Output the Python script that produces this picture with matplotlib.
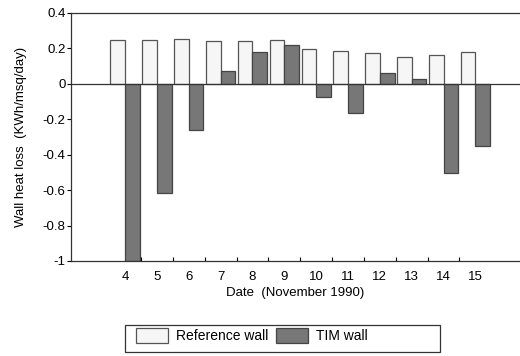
import numpy as np
import matplotlib.pyplot as plt
from matplotlib.patches import Rectangle

plt.rcParams['font.family'] = ['Liberation Sans', 'DejaVu Sans']

# data
dates = [4, 5, 6, 7, 8, 9, 10, 11, 12, 13, 14, 15]
reference_wall = [0.245, 0.245, 0.253, 0.243, 0.243, 0.249, 0.196, 0.188, 0.173, 0.151, 0.162, 0.180]
tim_wall = [-1.0, -0.617, -0.26, 0.075, 0.177, 0.22, -0.072, -0.162, 0.064, 0.028, -0.505, -0.349]

x = np.array(dates, dtype=float)
w = 0.46
fs = 9.5

fig = plt.figure(figsize=(5.2, 3.56), dpi=100)
ax = fig.add_axes([0.1365, 0.267, 0.8635, 0.6965])

ax.bar(x - w / 2, reference_wall, width=w, color='#f6f6f6', edgecolor='#555555',
       linewidth=0.9, label='Reference wall')
ax.bar(x + w / 2, tim_wall, width=w, color='#777777', edgecolor='#444444',
       linewidth=0.9, label='TIM wall')

ax.axhline(0, color='#333333', linewidth=0.9)
ax.set_xlim(2.3, 16.4)
ax.set_ylim(-1, 0.4)

ax.set_yticks([0.4, 0.2, 0, -0.2, -0.4, -0.6, -0.8, -1])
ax.set_yticklabels(['0.4', '0.2', '0', '-0.2', '-0.4', '-0.6', '-0.8', '-1'])
ax.tick_params(axis='y', direction='out', length=3, width=0.8, labelsize=fs, pad=1)

ax.set_xticks(x)
ax.set_xticklabels([str(d) for d in dates])
ax.tick_params(axis='x', length=0, labelsize=fs, pad=7)
ax.set_xticks(np.arange(4.5, 15.0, 1.0), minor=True)
ax.tick_params(axis='x', which='minor', direction='in', length=3, width=0.8)

for s in ['left', 'bottom', 'top']:
    ax.spines[s].set_color('#333333')
    ax.spines[s].set_linewidth(0.9)
ax.spines['right'].set_visible(False)

ax.set_xlabel('Date  (November 1990)', fontsize=fs, labelpad=3)
ax.set_ylabel('Wall heat loss  (KWh/msq/day)', fontsize=fs, labelpad=11)

# legend, left aligned inside a wider box
fig.legend(loc='center left', bbox_to_anchor=(0.243, 0.058), ncol=2, fontsize=fs + 0.5,
           frameon=False, handlelength=2.3, handleheight=1.3,
           columnspacing=0.5, handletextpad=0.6, borderpad=0.2)
fig.patches.append(Rectangle((125 / 520, 1 - 352 / 356), 315 / 520, 27 / 356,
                             transform=fig.transFigure, fill=False,
                             edgecolor='#333333', linewidth=0.9))

fig.savefig('out.png', dpi=100)
